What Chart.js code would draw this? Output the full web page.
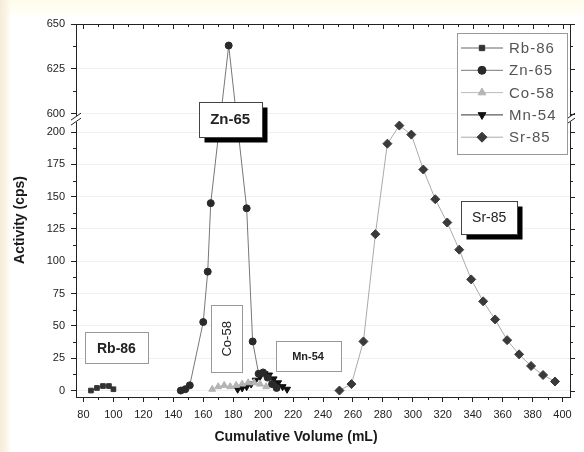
<!DOCTYPE html>
<html>
<head>
<meta charset="utf-8">
<script src="https://cdn.jsdelivr.net/npm/chart.js"></script>
<style>
  html, body { margin: 0; padding: 0; background: #fff; }
  #wrap {
    width: 584px; height: 452px;
    background:
      linear-gradient(90deg, #f6ecd6 0, #faf4e6 6px, rgba(255,255,255,0) 11px),
      linear-gradient(180deg, #fffcea 0, #fffef6 12px, #fff 18px);
  }
  canvas { display: block; }
</style>
</head>
<body>
<div id="wrap"><canvas id="chart" width="584" height="452"></canvas></div>
<script>
// Data (cumulative volume in mL, activity in cps)
const rbVolume = [85, 89, 93, 97, 100];
const rbActivity = [0, 2, 3.5, 3.5, 1];
const znVolume = [145, 148, 151, 160, 163, 165, 177, 189, 193, 197, 200, 203, 206, 209];
const znActivity = [0, 1, 4, 53, 92, 145, 638, 141, 38, 13, 14, 10, 5, 2];
const coVolume = [166, 170, 174, 178, 182, 186, 190, 194, 198, 202];
const coActivity = [1, 3, 4, 3, 4, 5, 6, 6, 5, 3];
const mnVolume = [183, 186, 189, 192, 195, 198, 201, 204, 207, 210, 213, 216];
const mnActivity = [1, 2, 3, 5, 8, 11, 13, 12, 9, 6, 3, 1];
const srVolume = [251, 259, 267, 275, 283, 291, 299, 307, 315, 323, 331, 339, 347, 355, 363, 371, 379, 387, 395];
const srActivity = [0, 5, 38, 121, 191, 205, 198, 171, 148, 130, 109, 86, 69, 55, 39, 28, 19, 12, 7];

const xTickValues = [80, 100, 120, 140, 160, 180, 200, 220, 240, 260, 280, 300, 320, 340, 360, 380, 400];
const yTickValues = [0, 25, 50, 75, 100, 125, 150, 175, 200, 600, 625, 650];

// Labels placed in the plot (centre in data units, size in px)
const peakLabels = [
  { text: "Rb-86", x: 102, y: 33, w: 63, h: 31, font: "bold 14px 'Liberation Sans', Arial" },
  { text: "Zn-65", x: 178, y: 210, w: 63, h: 35, shadow: true, font: "bold 15px 'Liberation Sans', Arial" },
  { text: "Co-58", x: 175.7, y: 40, w: 31, h: 67, vertical: true, font: "13px 'Liberation Sans', Arial" },
  { text: "Mn-54", x: 230, y: 27, w: 65, h: 30, font: "bold 11px 'Liberation Sans', Arial" },
  { text: "Sr-85", x: 351, y: 134, w: 56, h: 33, shadow: true, font: "14px 'Liberation Sans', Arial" },
];

const FONT = "'Liberation Sans', Arial, sans-serif";

// Linear scale with a gap between breakLow and breakHigh
class BrokenScale extends Chart.LinearScale {
  static id = "broken";
  determineDataLimits() {
    this.min = this.options.min;
    this.max = this.options.max;
  }
  buildTicks() {
    return yTickValues.map((v) => ({ value: v }));
  }
  getPixelForValue(value) {
    if (value === null || value === undefined) return NaN;
    const o = this.options;
    let d;
    if (value <= o.breakLow) d = ((value - o.min) / (o.breakLow - o.min)) * o.breakAt;
    else if (value >= o.breakHigh) d = o.breakAt + ((value - o.breakHigh) / (o.max - o.breakHigh)) * (1 - o.breakAt);
    else d = o.breakAt;
    return this.getPixelForDecimal(d);
  }
  getValueForPixel(pixel) {
    const o = this.options;
    const d = this.getDecimalForPixel(pixel);
    if (d <= o.breakAt) return o.min + (d / o.breakAt) * (o.breakLow - o.min);
    return o.breakHigh + ((d - o.breakAt) / (1 - o.breakAt)) * (o.max - o.breakHigh);
  }
}
Chart.register(BrokenScale);

const toPoints = (xs, ys) => xs.map((x, i) => ({ x, y: ys[i] }));

function series(label, xs, ys, style) {
  return Object.assign({
    label,
    data: toPoints(xs, ys),
    borderWidth: 1,
    pointRadius: 3.5,
    pointBorderWidth: 1,
    tension: 0,
  }, style);
}

const datasets = [
  series("Rb-86", rbVolume, rbActivity, { borderColor: "#666", pointBackgroundColor: "#333", pointBorderColor: "#333", pointStyle: "rect", pointRadius: 3.3 }),
  series("Zn-65", znVolume, znActivity, { borderColor: "#777", pointBackgroundColor: "#2a2a2a", pointBorderColor: "#2a2a2a", pointStyle: "circle" }),
  series("Co-58", coVolume, coActivity, { borderColor: "#bbb", pointBackgroundColor: "#b4b4b4", pointBorderColor: "#b4b4b4", pointStyle: "triangle", pointRadius: 4 }),
  series("Mn-54", mnVolume, mnActivity, { borderColor: "#333", pointBackgroundColor: "#111", pointBorderColor: "#111", pointStyle: "triangle", pointRotation: 180, pointRadius: 4 }),
  series("Sr-85", srVolume, srActivity, { borderColor: "#aaa", pointBackgroundColor: "#3a3a3a", pointBorderColor: "#3a3a3a", pointStyle: "rectRot", pointRadius: 4.5 }),
];

// Frame, minor ticks, axis break marks, legend, axis titles
const framePlugin = {
  id: "frame",
  afterDatasetsDraw(chart) {
    const { ctx, scales: { x, y } } = chart;
    ctx.save();
    peakLabels.forEach((lb) => {
      const cx = x.getPixelForValue(lb.x);
      const cy = y.getPixelForValue(lb.y);
      const left = Math.round(cx - lb.w / 2) + 0.5;
      const top = Math.round(cy - lb.h / 2) + 0.5;
      if (lb.shadow) {
        ctx.fillStyle = "#000";
        ctx.fillRect(left + 5, top + 5, lb.w, lb.h);
      }
      ctx.fillStyle = "#fff";
      ctx.fillRect(left, top, lb.w, lb.h);
      ctx.strokeStyle = lb.shadow ? "#444" : "#999";
      ctx.lineWidth = 1;
      ctx.strokeRect(left, top, lb.w, lb.h);
      ctx.fillStyle = "#222";
      ctx.font = lb.font;
      ctx.textAlign = "center";
      ctx.textBaseline = "middle";
      if (lb.vertical) {
        ctx.save();
        ctx.translate(cx, cy);
        ctx.rotate(-Math.PI / 2);
        ctx.fillText(lb.text, 0, 1);
        ctx.restore();
      } else {
        ctx.fillText(lb.text, cx, cy + 1);
      }
    });
    ctx.restore();
  },
  afterDraw(chart) {
    const { ctx, chartArea: a, scales: { x, y } } = chart;
    const o = y.options;
    ctx.save();
    ctx.strokeStyle = "#222";
    ctx.lineWidth = 1;

    // top and right axis lines
    ctx.beginPath();
    ctx.moveTo(a.left, a.top + 0.5);
    ctx.lineTo(a.right, a.top + 0.5);
    ctx.moveTo(a.right + 0.5, a.top);
    ctx.lineTo(a.right + 0.5, a.bottom);
    ctx.stroke();

    ctx.beginPath();
    for (let v = 80; v <= 400; v += 10) {
      const px = Math.round(x.getPixelForValue(v)) + 0.5;
      const major = v % 20 === 0;
      ctx.moveTo(px, a.top);
      ctx.lineTo(px, a.top + (major ? 5 : 3));
      if (!major) {
        ctx.moveTo(px, a.bottom);
        ctx.lineTo(px, a.bottom + 3);
      }
    }
    const yMinor = [];
    for (let v = 12.5; v < 200; v += 25) yMinor.push(v);
    yMinor.push(612.5, 637.5);
    yTickValues.forEach((v) => {
      const py = Math.round(y.getPixelForValue(v)) + 0.5;
      ctx.moveTo(a.right, py);
      ctx.lineTo(a.right + 5, py);
    });
    yMinor.forEach((v) => {
      const py = Math.round(y.getPixelForValue(v)) + 0.5;
      ctx.moveTo(a.left, py);
      ctx.lineTo(a.left - 3, py);
      ctx.moveTo(a.right, py);
      ctx.lineTo(a.right + 3, py);
    });
    ctx.stroke();

    // axis break marks
    const bp = y.getPixelForDecimal(o.breakAt);
    [a.left, a.right].forEach((ax) => {
      ctx.fillStyle = "#fff";
      ctx.fillRect(ax - 2, bp - 3, 5, 6);
      ctx.beginPath();
      ctx.moveTo(ax - 5, bp + 1);
      ctx.lineTo(ax + 5, bp - 6);
      ctx.moveTo(ax - 5, bp + 6);
      ctx.lineTo(ax + 5, bp - 1);
      ctx.stroke();
    });

    // legend
    const lx = 457.5, ly = 33.5, lw = 110, lh = 121;
    ctx.fillStyle = "#fff";
    ctx.fillRect(lx, ly, lw, lh);
    ctx.strokeStyle = "#999";
    ctx.strokeRect(lx, ly, lw, lh);
    chart.data.datasets.forEach((ds, i) => {
      const ey = 48 + i * 22.3;
      ctx.strokeStyle = ds.borderColor;
      ctx.lineWidth = 1;
      ctx.beginPath();
      ctx.moveTo(461, ey);
      ctx.lineTo(503, ey);
      ctx.stroke();
      ctx.fillStyle = ds.pointBackgroundColor;
      ctx.strokeStyle = ds.pointBorderColor;
      Chart.helpers.drawPoint(ctx, {
        pointStyle: ds.pointStyle,
        rotation: ds.pointRotation || 0,
        radius: ds.pointRadius + 0.5,
        borderWidth: 1,
      }, 482, ey);
      ctx.fillStyle = "#555";
      ctx.font = "15px " + FONT;
      ctx.letterSpacing = "1px";
      ctx.textAlign = "left";
      ctx.textBaseline = "middle";
      ctx.fillText(ds.label, 509, ey + 1);
      ctx.letterSpacing = "0px";
    });

    // axis titles
    ctx.fillStyle = "#1a1a1a";
    ctx.font = "bold 14px " + FONT;
    ctx.textAlign = "center";
    ctx.textBaseline = "middle";
    ctx.fillText("Cumulative Volume (mL)", 296, 437);
    ctx.save();
    ctx.translate(20, 220);
    ctx.rotate(-Math.PI / 2);
    ctx.fillText("Activity (cps)", 0, 0);
    ctx.restore();
    ctx.restore();
  },
};

const tickFont = { family: FONT, size: 11 };

new Chart(document.getElementById("chart"), {
  type: "line",
  data: { datasets },
  plugins: [framePlugin],
  options: {
    responsive: false,
    animation: false,
    layout: { padding: { top: 24, right: 14, left: 0, bottom: 0 } },
    plugins: { legend: { display: false }, tooltip: { enabled: false } },
    scales: {
      x: {
        type: "linear",
        min: 75,
        max: 405,
        afterBuildTicks: (s) => { s.ticks = xTickValues.map((v) => ({ value: v })); },
        afterFit: (s) => { s.height = 55; },
        ticks: { font: tickFont, color: "#222", padding: 6, maxRotation: 0, autoSkip: false },
        grid: { drawOnChartArea: false, tickLength: 5, tickColor: "#222" },
        border: { color: "#222" },
      },
      y: {
        type: "broken",
        min: -5,
        max: 650,
        breakLow: 210,
        breakHigh: 597,
        breakAt: 0.745,
        afterFit: (s) => { s.width = 76; },
        ticks: {
          font: tickFont, color: "#222", padding: 6, autoSkip: false,
          callback: (v) => String(v),
        },
        grid: { color: "#f0f0f0", tickLength: 5, tickColor: "#222" },
        border: { color: "#222" },
      },
    },
  },
});
</script>
</body>
</html>
